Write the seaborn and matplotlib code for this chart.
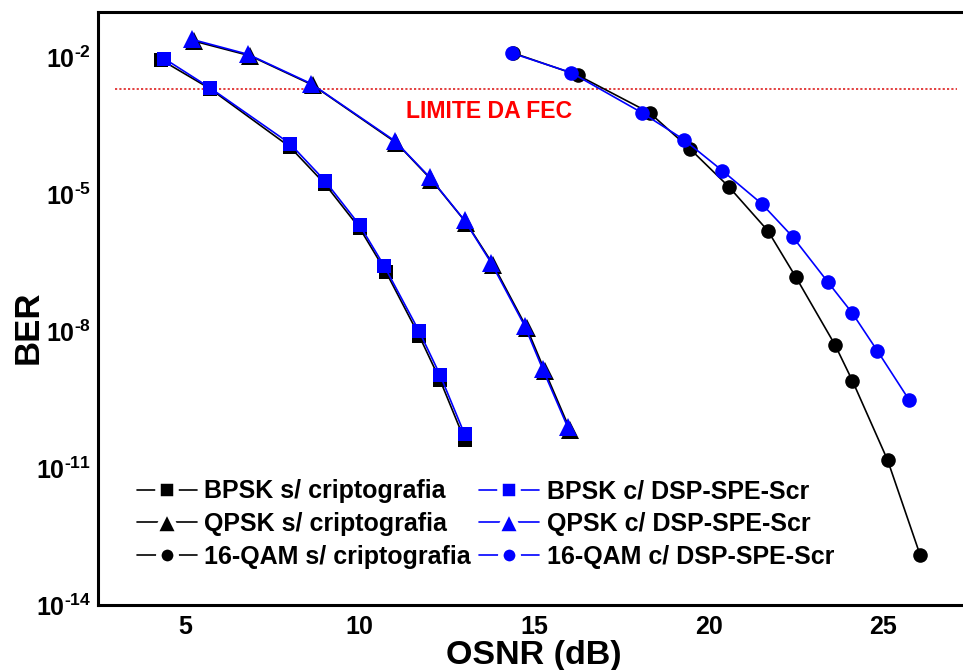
import matplotlib
matplotlib.use("Agg")
import matplotlib.pyplot as plt
from matplotlib.lines import Line2D
import seaborn as sns
import pandas as pd

# OSNR (dB) and BER for each modulation format
bpsk_osnr_plain = [4.3, 5.7, 8.0, 9.0, 10.0, 10.75, 11.7, 12.3, 13.0]
bpsk_ber_plain = [9.0e-3, 2.1e-3, 1.1e-4, 1.7e-5, 1.8e-6, 2.0e-7, 8.0e-9, 8.5e-10, 4.2e-11]
bpsk_osnr_scr = [4.4, 5.7, 8.0, 9.0, 10.0, 10.7, 11.7, 12.3, 13.0]
bpsk_ber_scr = [9.5e-3, 2.2e-3, 1.3e-4, 2.0e-5, 2.1e-6, 2.7e-7, 1.0e-8, 1.1e-9, 5.6e-11]

qpsk_osnr_plain = [5.25, 6.85, 8.65, 11.05, 12.05, 13.05, 13.82, 14.78, 15.3, 16.02]
qpsk_ber_plain = [2.3e-2, 1.1e-2, 2.5e-3, 1.35e-4, 2.1e-5, 2.4e-6, 2.9e-7, 1.2e-8, 1.35e-9, 7.0e-11]
qpsk_osnr_scr = [5.2, 6.8, 8.6, 11.0, 12.0, 13.0, 13.76, 14.72, 15.24, 15.96]
qpsk_ber_scr = [2.5e-2, 1.18e-2, 2.7e-3, 1.5e-4, 2.4e-5, 2.7e-6, 3.2e-7, 1.33e-8, 1.48e-9, 7.8e-11]

qam_osnr_plain = [14.4, 16.25, 18.3, 19.47, 20.57, 21.69, 22.49, 23.61, 24.11, 25.12, 26.05]
qam_ber_plain = [1.26e-2, 4.1e-3, 6.2e-4, 9.8e-5, 1.48e-5, 1.6e-6, 1.55e-7, 5.1e-9, 8.3e-10, 1.5e-11, 1.26e-13]
qam_osnr_scr = [14.35, 16.05, 18.08, 19.28, 20.39, 21.52, 22.4, 23.41, 24.11, 24.83, 25.74]
qam_ber_scr = [1.26e-2, 4.7e-3, 6.2e-4, 1.6e-4, 3.3e-5, 6.2e-6, 1.18e-6, 1.2e-7, 2.5e-8, 3.7e-9, 3.1e-10]

labels_plain = ["BPSK s/ criptografia", "QPSK s/ criptografia", "16-QAM s/ criptografia"]
labels_scr = ["BPSK c/ DSP-SPE-Scr", "QPSK c/ DSP-SPE-Scr", "16-QAM c/ DSP-SPE-Scr"]

ytick_values = [1e-14, 1e-11, 1e-8, 1e-5, 1e-2]
ytick_exponents = ["14", "11", "8", "5", "2"]
xtick_values = [5, 10, 15, 20, 25]

fec_limit = 2e-3
fec_osnr = [3.0, 27.1]

sns.set_theme(style="white")
plt.rcParams["font.family"] = ["Liberation Sans", "DejaVu Sans"]
plt.rcParams["font.weight"] = "bold"
plt.rcParams["text.color"] = "black"
plt.rcParams["axes.labelcolor"] = "black"
plt.rcParams["xtick.color"] = "black"
plt.rcParams["ytick.color"] = "black"
plt.rcParams["mathtext.fontset"] = "custom"
plt.rcParams["mathtext.rm"] = "Liberation Sans:bold"
plt.rcParams["mathtext.bf"] = "Liberation Sans:bold"
plt.rcParams["mathtext.it"] = "Liberation Sans:bold"

fig = plt.figure(figsize=(9.63, 6.70), dpi=100)
ax = fig.add_axes([98 / 963, 1 - 605 / 670, 1 - 98 / 963, (605 - 12) / 670])

markers = ["s", "^", "o"]
sizes = [9.5, 13, 10.5]
plain = [(bpsk_osnr_plain, bpsk_ber_plain), (qpsk_osnr_plain, qpsk_ber_plain), (qam_osnr_plain, qam_ber_plain)]
scr = [(bpsk_osnr_scr, bpsk_ber_scr), (qpsk_osnr_scr, qpsk_ber_scr), (qam_osnr_scr, qam_ber_scr)]

# reference curves (black) first, scrambled curves (blue) on top
for (xs, ys), m, s in zip(plain, markers, sizes):
    df = pd.DataFrame({"OSNR": xs, "BER": ys})
    sns.lineplot(data=df, x="OSNR", y="BER", ax=ax, color="black", marker=m,
                 markersize=s, markeredgewidth=0, linewidth=1.2, sort=False,
                 legend=False)
for (xs, ys), m, s in zip(scr, markers, sizes):
    df = pd.DataFrame({"OSNR": xs, "BER": ys})
    sns.lineplot(data=df, x="OSNR", y="BER", ax=ax, color="#0000ff", marker=m,
                 markersize=s, markeredgewidth=0, linewidth=1.2, sort=False,
                 legend=False)

ax.plot(fec_osnr, [fec_limit, fec_limit], color="#e03030", linestyle=(0, (1.2, 1.2)),
        linewidth=1.3, zorder=1)
ax.text(13.7, 6.6e-4, "LIMITE DA FEC", color="#ff0000", fontsize=16.6,
        fontweight="bold", ha="center", va="center")

ax.set_yscale("log")
ax.set_ylim(1e-14, 1e-1)
ax.set_xlim(2.5, 27.28)
ax.set_yticks(ytick_values)
ax.set_yticklabels([r"$10^{\text{-}%s}$" % e for e in ytick_exponents])
ax.set_xticks(xtick_values)
ax.set_xticklabels([str(v) for v in xtick_values])
ax.minorticks_off()
ax.tick_params(axis="both", length=0, labelsize=18)
ax.tick_params(axis="y", pad=5)
ax.tick_params(axis="x", pad=7)
for t in ax.get_xticklabels() + ax.get_yticklabels():
    t.set_fontweight("bold")

ax.set_xlabel("OSNR (dB)", fontsize=24.5, fontweight="bold", va="baseline")
ax.set_ylabel("BER", fontsize=25, fontweight="bold")
ax.xaxis.set_label_coords(0.504, -0.1)
ax.yaxis.set_label_coords(-0.062, 0.469)

for side in ["left", "bottom", "top"]:
    ax.spines[side].set_visible(True)
    ax.spines[side].set_color("black")
    ax.spines[side].set_linewidth(2.2)
ax.spines["right"].set_visible(False)

leg_sizes = [8.5, 13, 8.5]
handles = []
for color in ["black", "#0000ff"]:
    for m, s in zip(markers, leg_sizes):
        handles.append(Line2D([], [], color=color, marker=m, markersize=s + 4,
                              markeredgecolor="white", markeredgewidth=4, linewidth=1.2))
leg = ax.legend(handles, labels_plain + labels_scr, ncol=2, loc="upper left",
                bbox_to_anchor=(0.0185, 0.25), frameon=False, handlelength=2.4,
                handletextpad=0.3, columnspacing=0.35, labelspacing=0.35,
                prop={"family": ["Liberation Sans"], "weight": "bold", "size": 18})

fig.savefig("out.png", dpi=100)
